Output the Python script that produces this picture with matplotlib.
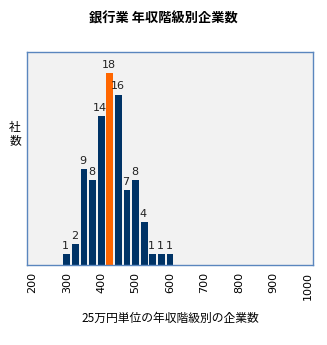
import matplotlib
matplotlib.use("Agg")
import matplotlib.pyplot as plt

plt.rcParams['font.family'] = ['Noto Sans CJK JP', 'DejaVu Sans']

# Salary bins (万円, 25万円 steps) and number of companies per bin
bins = [300, 325, 350, 375, 400, 425, 450, 475, 500, 525, 550, 575, 600]
counts = [1, 2, 9, 8, 14, 18, 16, 7, 8, 4, 1, 1, 1]
highlight_bin = 425
tick_values = [200, 300, 400, 500, 600, 700, 800, 900, 1000]

title = "銀行業 年収階級別企業数"
xlabel = "25万円単位の年収階級別の企業数"
ylabel = "社\n数"

navy = "#003366"
orange = "#ff6600"
frame = "#5a86be"

fig = plt.figure(figsize=(3.27, 3.45), dpi=100)
ax = fig.add_axes([27.3 / 327, 1 - 265 / 345, (312.7 - 27.3) / 327, (265 - 52) / 345])
ax.set_facecolor("#f2f2f2")

colors = [orange if b == highlight_bin else navy for b in bins]
ax.bar(bins, counts, width=20, color=colors, zorder=2)

for b, c in zip(bins, counts):
    ax.text(b - 3, c + 0.3, str(c), ha="center", va="bottom", fontsize=8,
            color="#222222", zorder=3, family=['DejaVu Sans'])

ax.set_xlim(185, 1015)
ax.set_ylim(0, 20)
ax.set_yticks([])
ax.set_xticks(tick_values)
ax.set_xticklabels([str(v) for v in tick_values], rotation=90, fontsize=8,
                   family=['DejaVu Sans'])
ax.tick_params(axis="x", length=0, pad=5)

for s in ax.spines.values():
    s.set_color(frame)
    s.set_linewidth(1.0)

fig.text(0.5, 1 - 18 / 345, title, ha="center", va="center", fontsize=9.5,
         fontweight="bold")
fig.text(170 / 327, 1 - 318 / 345, xlabel, ha="center", va="center", fontsize=8.5)
fig.text(15 / 327, 1 - 134 / 345, ylabel, ha="center", va="center", fontsize=8.5,
         linespacing=1.1)

fig.savefig("out.png", dpi=100)
